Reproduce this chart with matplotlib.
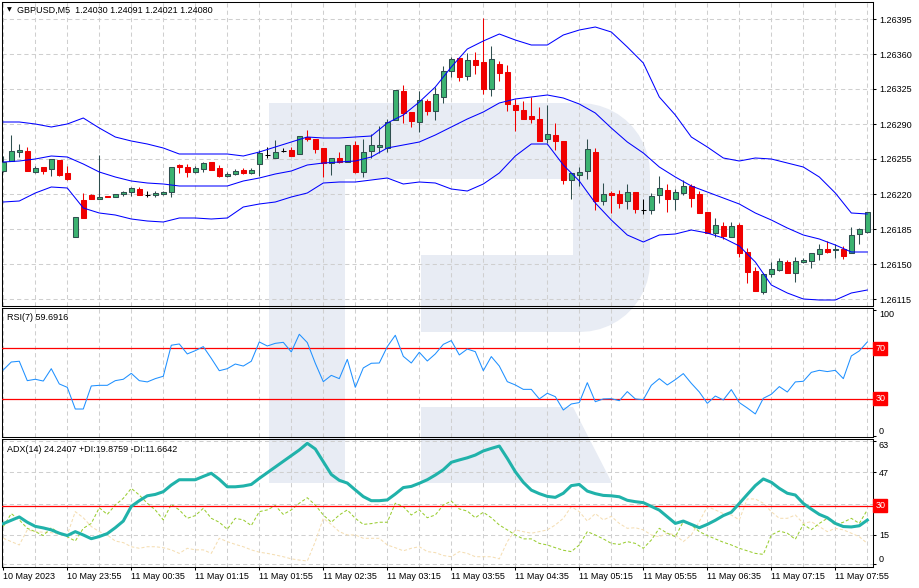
import matplotlib
matplotlib.use("Agg")
import matplotlib.pyplot as plt
import matplotlib.transforms as mtransforms
from matplotlib.path import Path
from matplotlib.patches import PathPatch
import numpy as np

plt.rcParams['font.family'] = ['Liberation Sans', 'DejaVu Sans']
plt.rcParams['font.size'] = 6.5

# GBPUSD M5 bars, one per 5 minutes (first bar 10 May 23:15)
opens = [1.26243, 1.26253, 1.26262, 1.26263, 1.26242, 1.26247, 1.26245, 1.26254, 1.26241, 1.26177,
         1.26214, 1.26219, 1.26215, 1.26218, 1.26217, 1.26220, 1.26222, 1.26225, 1.26219, 1.26219,
         1.26220, 1.26222, 1.26249, 1.26247, 1.26242, 1.26245, 1.26252, 1.26246, 1.26238, 1.26240,
         1.26244, 1.26241, 1.26250, 1.26259, 1.26256, 1.26263, 1.26264, 1.26260, 1.26277, 1.26275,
         1.26266, 1.26251, 1.26256, 1.26252, 1.26269, 1.26242, 1.26263, 1.26267, 1.26266, 1.26294,
         1.26323, 1.26302, 1.26292, 1.26313, 1.26303, 1.26317, 1.26343, 1.26356, 1.26338, 1.26354,
         1.26352, 1.26325, 1.26350, 1.26342, 1.26309, 1.26304, 1.26298, 1.26295, 1.26275, 1.26279,
         1.26273, 1.26234, 1.26239, 1.26243, 1.26262, 1.26213, 1.26221, 1.26220, 1.26213, 1.26222,
         1.26204, 1.26204, 1.26219, 1.26224, 1.26215, 1.26221, 1.26228, 1.26220, 1.26202, 1.26181,
         1.26188, 1.26177, 1.26189, 1.26162, 1.26143, 1.26122, 1.26140, 1.26144, 1.26152, 1.26141,
         1.26152, 1.26153, 1.26160, 1.26165, 1.26164, 1.26165, 1.26161, 1.26180, 1.26182]
highs = [1.26258, 1.26279, 1.26270, 1.26267, 1.26248, 1.26247, 1.26255, 1.26254, 1.26248, 1.26197,
         1.26221, 1.26220, 1.26259, 1.26218, 1.26220, 1.26223, 1.26227, 1.26227, 1.26223, 1.26223,
         1.26223, 1.26247, 1.26250, 1.26250, 1.26248, 1.26252, 1.26252, 1.26249, 1.26242, 1.26245,
         1.26246, 1.26246, 1.26264, 1.26267, 1.26274, 1.26266, 1.26267, 1.26278, 1.26284, 1.26275,
         1.26266, 1.26256, 1.26262, 1.26269, 1.26273, 1.26275, 1.26280, 1.26288, 1.26295, 1.26324,
         1.26329, 1.26302, 1.26323, 1.26315, 1.26327, 1.26348, 1.26357, 1.26356, 1.26361, 1.26362,
         1.26396, 1.26368, 1.26353, 1.26349, 1.26315, 1.26313, 1.26317, 1.26307, 1.26309, 1.26291,
         1.26273, 1.26241, 1.26247, 1.26275, 1.26266, 1.26231, 1.26223, 1.26224, 1.26230, 1.26222,
         1.26215, 1.26221, 1.26238, 1.26230, 1.26225, 1.26234, 1.26230, 1.26223, 1.26202, 1.26196,
         1.26192, 1.26192, 1.26191, 1.26166, 1.26147, 1.26141, 1.26152, 1.26156, 1.26154, 1.26157,
         1.26156, 1.26161, 1.26170, 1.26173, 1.26170, 1.26168, 1.26187, 1.26186, 1.26202]
lows = [1.26242, 1.26253, 1.26257, 1.26243, 1.26241, 1.26240, 1.26238, 1.26238, 1.26234, 1.26177,
        1.26196, 1.26215, 1.26215, 1.26217, 1.26217, 1.26218, 1.26218, 1.26219, 1.26217, 1.26217,
        1.26219, 1.26217, 1.26241, 1.26237, 1.26241, 1.26242, 1.26244, 1.26237, 1.26237, 1.26239,
        1.26240, 1.26240, 1.26238, 1.26256, 1.26256, 1.26262, 1.26258, 1.26260, 1.26273, 1.26261,
        1.26237, 1.26239, 1.26251, 1.26252, 1.26241, 1.26237, 1.26256, 1.26261, 1.26262, 1.26294,
        1.26291, 1.26287, 1.26282, 1.26299, 1.26294, 1.26311, 1.26337, 1.26333, 1.26334, 1.26340,
        1.26320, 1.26318, 1.26333, 1.26303, 1.26283, 1.26295, 1.26291, 1.26273, 1.26271, 1.26264,
        1.26230, 1.26215, 1.26228, 1.26235, 1.26204, 1.26209, 1.26201, 1.26206, 1.26205, 1.26201,
        1.26200, 1.26200, 1.26211, 1.26202, 1.26204, 1.26219, 1.26207, 1.26201, 1.26181, 1.26177,
        1.26175, 1.26177, 1.26157, 1.26131, 1.26123, 1.26120, 1.26137, 1.26143, 1.26141, 1.26132,
        1.26151, 1.26146, 1.26154, 1.26161, 1.26156, 1.26155, 1.26161, 1.26170, 1.26181]
closes = [1.26252, 1.26263, 1.26264, 1.26243, 1.26246, 1.26243, 1.26255, 1.26239, 1.26235, 1.26197,
          1.26196, 1.26215, 1.26217, 1.26217, 1.26220, 1.26222, 1.26226, 1.26219, 1.26219, 1.26221,
          1.26222, 1.26247, 1.26247, 1.26242, 1.26246, 1.26251, 1.26244, 1.26238, 1.26240, 1.26243,
          1.26241, 1.26244, 1.26261, 1.26259, 1.26262, 1.26263, 1.26258, 1.26278, 1.26275, 1.26265,
          1.26251, 1.26256, 1.26252, 1.26269, 1.26242, 1.26262, 1.26269, 1.26269, 1.26292, 1.26324,
          1.26301, 1.26293, 1.26314, 1.26303, 1.26320, 1.26343, 1.26355, 1.26337, 1.26354, 1.26349,
          1.26325, 1.26355, 1.26341, 1.26310, 1.26304, 1.26295, 1.26295, 1.26273, 1.26280, 1.26273,
          1.26234, 1.26241, 1.26242, 1.26265, 1.26213, 1.26220, 1.26219, 1.26211, 1.26222, 1.26205,
          1.26204, 1.26218, 1.26226, 1.26215, 1.26222, 1.26228, 1.26216, 1.26201, 1.26181, 1.26189,
          1.26178, 1.26188, 1.26161, 1.26142, 1.26123, 1.26140, 1.26145, 1.26153, 1.26141, 1.26153,
          1.26154, 1.26161, 1.26165, 1.26162, 1.26165, 1.26158, 1.26179, 1.26185, 1.26202]

# Bollinger bands read every second bar
band_bars = list(range(0, 109, 2))
bb_upper = [1.26292, 1.26292, 1.26290, 1.26287, 1.26290, 1.26296, 1.26286, 1.26277, 1.26273, 1.26270,
            1.26266, 1.26260, 1.26260, 1.26260, 1.26260, 1.26258, 1.26262, 1.26267, 1.26272, 1.26277,
            1.26276, 1.26276, 1.26277, 1.26278, 1.26291, 1.26299, 1.26312, 1.26327, 1.26347, 1.26365,
            1.26373, 1.26380, 1.26374, 1.26369, 1.26369, 1.26379, 1.26384, 1.26387, 1.26382, 1.26367,
            1.26351, 1.26317, 1.26299, 1.26277, 1.26267, 1.26256, 1.26253, 1.26256, 1.26255, 1.26251,
            1.26247, 1.26237, 1.26221, 1.26201, 1.26200]
bb_middle = [1.26252, 1.26253, 1.26255, 1.26258, 1.26257, 1.26250, 1.26242, 1.26237, 1.26233, 1.26231,
             1.26230, 1.26228, 1.26228, 1.26228, 1.26228, 1.26233, 1.26236, 1.26240, 1.26243, 1.26249,
             1.26251, 1.26252, 1.26253, 1.26257, 1.26266, 1.26269, 1.26272, 1.26279, 1.26287, 1.26295,
             1.26302, 1.26311, 1.26315, 1.26317, 1.26319, 1.26316, 1.26310, 1.26301, 1.26286, 1.26272,
             1.26261, 1.26247, 1.26237, 1.26228, 1.26222, 1.26216, 1.26210, 1.26201, 1.26194, 1.26186,
             1.26179, 1.26175, 1.26169, 1.26162, 1.26162]
bb_lower = [1.26212, 1.26213, 1.26221, 1.26227, 1.26226, 1.26206, 1.26201, 1.26199, 1.26195, 1.26193,
            1.26192, 1.26196, 1.26196, 1.26195, 1.26196, 1.26207, 1.26210, 1.26212, 1.26217, 1.26221,
            1.26231, 1.26232, 1.26232, 1.26234, 1.26236, 1.26230, 1.26232, 1.26231, 1.26225, 1.26223,
            1.26230, 1.26241, 1.26258, 1.26270, 1.26270, 1.26249, 1.26233, 1.26211, 1.26194, 1.26179,
            1.26172, 1.26179, 1.26180, 1.26184, 1.26181, 1.26176, 1.26168, 1.26152, 1.26129, 1.26121,
            1.26115, 1.26114, 1.26114, 1.26121, 1.26124]

rsi = [52.8, 59.1, 59.7, 44.3, 45.4, 44.0, 53.8, 41.7, 39.0, 21.8,
       21.8, 40.1, 40.6, 40.6, 44.3, 45.4, 50.1, 44.3, 43.3, 45.9,
       47.8, 72.4, 73.4, 65.5, 68.1, 71.3, 62.0, 52.2, 53.8, 57.5,
       55.9, 59.7, 75.0, 71.8, 73.9, 74.7, 67.1, 81.1, 74.5, 58.1,
       43.5, 48.5, 45.9, 61.2, 39.0, 54.4, 58.1, 58.3, 71.3, 80.3,
       63.6, 58.3, 66.8, 59.9, 65.5, 73.1, 76.1, 64.7, 69.4, 67.3,
       52.2, 63.4, 55.9, 43.5, 40.9, 37.4, 37.4, 29.8, 34.3, 31.6,
       21.0, 25.8, 26.9, 42.7, 27.6, 29.8, 30.0, 28.4, 35.6, 29.8,
       29.2, 40.6, 45.9, 40.9, 45.1, 49.9, 42.2, 35.3, 26.3, 32.1,
       29.0, 37.2, 26.9, 22.6, 17.9, 30.3, 33.5, 39.6, 35.3, 43.3,
       43.8, 50.9, 52.5, 51.5, 52.5, 45.9, 63.9, 67.9, 75.0]

adx = [20.8, 22.5, 24.2, 21.5, 19.4, 18.6, 17.6, 15.9, 14.7, 16.7,
       15.0, 13.1, 14.2, 15.7, 18.7, 22.1, 29.6, 32.5, 35.0, 35.7,
       37.1, 40.5, 43.2, 43.2, 43.2, 44.9, 46.5, 43.4, 39.6, 39.6,
       40.0, 40.8, 43.9, 46.8, 49.7, 52.6, 55.5, 58.4, 61.8, 58.9,
       52.4, 45.9, 42.9, 41.5, 38.0, 34.6, 32.5, 32.5, 32.9, 35.9,
       39.2, 39.8, 41.4, 43.2, 45.6, 48.3, 52.1, 53.3, 54.4, 55.8,
       57.9, 59.2, 60.4, 54.1, 47.3, 41.9, 37.9, 36.1, 34.7, 34.2,
       36.3, 40.2, 40.8, 37.4, 36.1, 35.2, 35.0, 34.5, 32.7, 32.0,
       31.5, 29.6, 27.7, 24.3, 20.9, 22.1, 20.4, 18.7, 20.4, 22.5,
       24.9, 26.6, 31.1, 35.7, 40.2, 43.6, 41.9, 38.8, 36.3, 35.4,
       31.1, 28.2, 25.5, 23.8, 20.9, 19.3, 19.1, 19.7, 22.6]
plus_di = [19.3, 25.9, 22.7, 18.4, 16.7, 14.7, 18.7, 15.9, 14.1, 11.9,
           18.4, 20.9, 28.9, 25.5, 30.3, 33.7, 38.8, 35.4, 31.2, 27.8,
           22.7, 30.6, 27.8, 23.5, 24.9, 28.6, 23.5, 21.5, 17.9, 23.5,
           22.7, 19.8, 26.9, 27.8, 30.0, 25.5, 27.8, 31.2, 34.0, 30.3,
           25.2, 21.5, 25.2, 27.8, 23.5, 20.4, 20.8, 21.5, 21.5, 31.2,
           29.5, 25.2, 27.8, 23.8, 25.2, 30.3, 32.3, 28.3, 27.2, 23.8,
           26.6, 23.8, 20.1, 17.6, 15.0, 13.0, 13.0, 10.7, 9.9, 8.5,
           7.2, 6.5, 9.9, 16.7, 15.0, 13.0, 10.7, 10.2, 11.6, 10.7,
           8.2, 12.4, 18.4, 15.9, 14.1, 21.8, 20.1, 16.7, 14.7, 13.0,
           11.3, 9.9, 8.2, 6.9, 5.6, 5.1, 15.0, 17.0, 15.9, 12.8,
           20.4, 17.7, 20.9, 23.5, 20.1, 21.5, 23.5, 20.9, 27.8]
minus_di = [13.3, 11.6, 9.9, 17.6, 16.7, 16.4, 16.2, 15.3, 15.0, 26.9,
            23.8, 19.3, 16.7, 15.0, 11.9, 11.1, 9.0, 8.2, 9.0, 9.0,
            8.5, 7.4, 5.6, 8.2, 7.4, 7.4, 5.6, 13.3, 11.6, 10.2,
            9.0, 7.4, 6.2, 5.6, 4.8, 3.9, 2.8, 2.2, 1.7, 11.6,
            23.5, 20.4, 16.7, 15.0, 15.0, 13.3, 13.3, 13.3, 9.9, 8.5,
            6.9, 8.2, 9.0, 6.5, 6.0, 4.5, 3.9, 6.5, 5.6, 3.9,
            3.9, 3.9, 2.8, 11.6, 17.6, 16.7, 15.9, 16.7, 17.6, 20.1,
            23.5, 29.5, 26.9, 22.1, 25.9, 22.7, 24.5, 20.9, 18.4, 18.7,
            17.6, 15.0, 14.1, 15.9, 15.0, 11.6, 15.0, 21.8, 29.5, 27.8,
            25.9, 25.2, 22.7, 33.4, 33.4, 31.2, 26.9, 23.5, 23.5, 25.2,
            20.9, 21.8, 19.3, 16.7, 18.4, 17.6, 15.9, 14.1, 10.7]

time_labels = ['10 May 2023', '10 May 23:55', '11 May 00:35', '11 May 01:15', '11 May 01:55',
               '11 May 02:35', '11 May 03:15', '11 May 03:55', '11 May 04:35', '11 May 05:15',
               '11 May 05:55', '11 May 06:35', '11 May 07:15', '11 May 07:55']
price_ticks = [1.26115, 1.26150, 1.26185, 1.26220, 1.26255, 1.26290, 1.26325, 1.26360, 1.26395]

W, H = 919, 588
fig = plt.figure(figsize=(W / 100, H / 100), dpi=100)
fig.patch.set_facecolor('white')
px = mtransforms.Affine2D().scale(1 / W, -1 / H).translate(0, 1) + fig.transFigure

# faint "R" watermark behind all panels
def arc(cx, cy, r, t0, t1, n=12):
    t = np.linspace(t0, t1, n)
    return list(zip(cx + r * np.cos(t), cy + r * np.sin(t)))

outer = [(269, 103), (580, 103)] + arc(580, 173, 70, -np.pi / 2, 0) + \
        [(650, 262)] + arc(580, 262, 70, 0, np.pi / 2) + \
        [(421, 332), (421, 255), (573, 255), (573, 179), (345, 179), (345, 483), (269, 483), (269, 103)]
leg = [(421, 407), (573, 407), (612, 483), (421, 483), (421, 407)]
logo = Path.make_compound_path(Path(outer, closed=True), Path(leg, closed=True))
fig.add_artist(PathPatch(logo, transform=px, facecolor='#e8ecf4', edgecolor='none', zorder=-5))

left, right = 2, 873
ax = fig.add_axes([left / W, 1 - 306 / H, (right - left) / W, 304 / H])
ax_rsi = fig.add_axes([left / W, 1 - 436.7 / H, (right - left) / W, 128.4 / H])
ax_adx = fig.add_axes([left / W, 1 - 566.7 / H, (right - left) / W, 127.7 / H])

grid_kw = dict(color='#cfcfcf', linestyle=(0, (4, 3)), linewidth=0.75)
for a in (ax, ax_rsi, ax_adx):
    a.set_facecolor('none')
    a.set_xlim(-0.16, 108.71)
    a.yaxis.tick_right()
    a.set_xticks(range(0, 109, 8))
    a.set_xticks(range(0, 109, 4), minor=True)
    a.grid(True, which='both', axis='x', **grid_kw)
    for s in a.spines.values():
        s.set_linewidth(0.75)
        s.set_color('black')
    a.tick_params(axis='y', direction='out', length=2.2, width=0.75, pad=2, labelsize=6.5, colors='black')
    a.tick_params(axis='x', which='both', length=0, labelbottom=False)

# ---- price panel
x = np.arange(len(opens))
o, h, l, c = map(np.array, (opens, highs, lows, closes))
up, dn, dj = c > o, c < o, c == o
green, edge, red = '#3cb371', '#2f4f4f', '#f00000'
ax.vlines(x[up], l[up], h[up], color=edge, lw=0.75, zorder=2)
ax.vlines(x[dn], l[dn], h[dn], color=red, lw=0.75, zorder=2)
ax.vlines(x[dj], l[dj], h[dj], color='black', lw=0.75, zorder=2)
ax.bar(x[up], c[up] - o[up], bottom=o[up], width=0.6, color=green, edgecolor=edge, linewidth=0.75, zorder=3)
ax.bar(x[dn], o[dn] - c[dn], bottom=c[dn], width=0.6, color=red, edgecolor=red, linewidth=0.75, zorder=3)
ax.hlines(o[dj], x[dj] - 0.3, x[dj] + 0.3, color='black', lw=0.75, zorder=3)
for band in (bb_upper, bb_middle, bb_lower):
    ax.plot(band_bars, band, color='#0000ff', lw=0.75, zorder=4)
ax.set_ylim(1.26108, 1.26412)
ax.set_yticks(price_ticks)
ax.set_yticklabels([f'{p:.5f}' for p in price_ticks])
ax.grid(True, axis='y', **grid_kw)

# ---- RSI panel
ax_rsi.plot(x, rsi, color='#1e90ff', lw=0.75, zorder=4)
for lvl in (70, 30):
    ax_rsi.axhline(lvl, color='#ff0000', lw=0.9, zorder=3)
ax_rsi.set_ylim(-0.16, 101.7)
ax_rsi.set_yticks([0, 100])
ax_rsi.set_yticklabels(['0', '100'])
rt = ax_rsi.yaxis.get_major_ticks()
rt[0].label2.set_va('bottom')
rt[-1].label2.set_va('top')

# ---- ADX panel
ax_adx.plot(x, minus_di, color='#f5deb3', lw=0.75, ls=(0, (3, 2)), zorder=3)
ax_adx.plot(x, plus_di, color='#9acd32', lw=0.75, ls=(0, (3, 2)), zorder=3)
ax_adx.plot(x, adx, color='#20b2aa', lw=2.2, zorder=4)
ax_adx.axhline(30, color='#ff0000', lw=0.9, zorder=3.5)
ax_adx.set_ylim(-1.2, 64.0)
ax_adx.set_yticks([0, 15, 31, 47, 63])
ax_adx.set_yticklabels(['0', '15', '31', '47', '63'])
ax_adx.grid(True, axis='y', **grid_kw)
at = ax_adx.yaxis.get_major_ticks()
at[0].label2.set_va('bottom')
at[-1].label2.set_va('top')
ax_adx.tick_params(axis='x', which='major', length=2.2, width=0.75, pad=1.5, labelbottom=True, labelsize=6.5)
ax_adx.set_xticklabels(time_labels, ha='left')

def level_tag(a, v):
    a.annotate(str(v), xy=(1, v), xycoords=('axes fraction', 'data'), xytext=(1.6, 0),
               textcoords='offset points', ha='left', va='center', color='white', fontsize=6.5,
               bbox=dict(boxstyle='square,pad=0.25', fc='#ff0000', ec='#ff0000'),
               annotation_clip=False, zorder=6)

level_tag(ax_rsi, 70)
level_tag(ax_rsi, 30)
level_tag(ax_adx, 30)

# panel captions
fig.text(7, 10, '\u25bc', transform=px, fontsize=4.5, va='center', ha='left', family='DejaVu Sans')
fig.text(17, 10, 'GBPUSD,M5  1.24030 1.24091 1.24021 1.24080', transform=px, va='center', ha='left')
fig.text(7, 317, 'RSI(7) 59.6916', transform=px, va='center', ha='left')
fig.text(7, 449, 'ADX(14) 24.2407 +DI:19.8759 -DI:11.6642', transform=px, va='center', ha='left')

fig.savefig('out.png', dpi=100, facecolor='white')
